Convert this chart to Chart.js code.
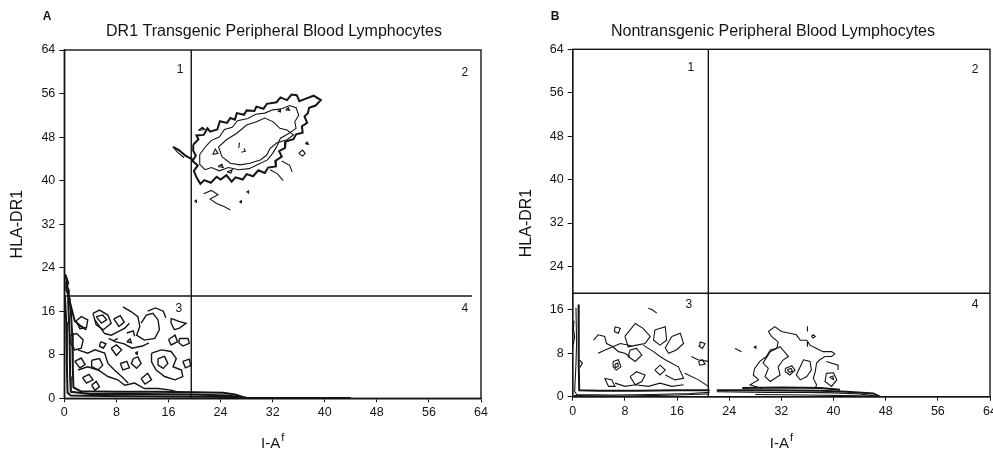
<!DOCTYPE html>
<html>
<head>
<meta charset="utf-8">
<title>HLA-DR1 vs I-Af contour plots</title>
<script src="https://cdn.jsdelivr.net/npm/chart.js@4.4.1/dist/chart.umd.min.js"></script>
<style>
  html, body { margin: 0; padding: 0; background: #fff; overflow: hidden; width: 993px; height: 450px; }
  .panel { position: absolute; top: 0; height: 450px; }
  #panelA { left: 0; width: 496px; }
  #panelB { left: 496px; width: 520px; }
</style>
</head>
<body>
<div class="panel" id="panelA"><canvas id="chartA" width="496" height="450"></canvas></div>
<div class="panel" id="panelB"><canvas id="chartB" width="520" height="450"></canvas></div>
<script>
const FONT = "'Liberation Sans', Arial, sans-serif";
const INK = '#141414';

// axis ticks, shared by both panels
const axisTicks = [0, 8, 16, 24, 32, 40, 48, 56, 64];

// ---- panel A: DR1 transgenic ----
const gateA = [
  [[19.5, 0], [19.5, 64]],
  [[0, 18.8], [62.6, 18.8]]
];
const quadLabelsA = [['1', 17.8, 60.3], ['2', 61.5, 59.8], ['3', 17.6, 16.4], ['4', 61.5, 16.4]];

// contours hugging the axes (thick)
const axisContoursA = [
  [[0.1, 22.8], [0.4, 21.6], [0.3, 20.0], [0.8, 18.4], [1.0, 16.0], [1.2, 12.0], [1.3, 6.0], [1.4, 2.0], [2.5, 1.3], [8, 1.2], [14, 1.2], [20, 1.1], [24.4, 1.0], [26.2, 0.7], [27.8, 0.1]],
  [[0.3, 21.0], [0.7, 19.8], [0.6, 17.6], [0.8, 12], [0.9, 4], [1.0, 1.2], [4, 0.8], [12, 0.8], [20, 0.7], [25, 0.5], [28.2, 0.05], [44, 0.05]],
  [[0.1, 18.6], [0.3, 14], [0.4, 6], [0.5, 1.0], [1.0, 0.5], [6, 0.4], [16, 0.35], [22, 0.3], [27, 0.2]],
  [[0.6, 19.0], [1.0, 17.0], [1.6, 14.2], [2.6, 13.2], [3.4, 12.6]],
  [[0.2, 22.6], [0.6, 21.2], [0.3, 20.2]]
];

// quadrant 2 population, outer contour (thick)
const blobOuterA = [
  [[19.8, 46.6], [20.6, 47.6], [20.3, 48.3], [21.4, 48.4], [22.0, 49.6], [22.4, 49.0], [23.5, 49.4], [23.9, 50.9], [25.0, 50.6], [25.5, 51.5], [26.2, 51.2], [26.5, 52.4], [27.6, 52.1], [28.0, 52.9], [29.2, 52.8], [29.5, 53.6], [30.6, 53.2], [31.1, 54.1], [32.6, 54.4], [33.2, 55.3], [34.2, 54.8], [34.9, 55.8], [35.7, 55.7], [36.1, 54.6], [37.2, 55.1], [38.3, 55.6], [39.4, 54.8], [38.6, 53.8], [37.6, 53.4], [37.4, 52.4], [36.9, 51.8], [37.3, 50.6], [36.5, 50.0], [36.6, 48.8], [35.6, 48.5], [35.2, 47.6], [34.0, 47.2], [33.9, 46.0], [33.0, 45.4], [33.4, 44.4], [32.4, 43.6], [32.5, 42.6], [31.3, 42.4], [30.8, 41.4], [29.8, 41.9], [29.0, 40.8], [28.0, 41.2], [27.4, 40.2], [26.3, 40.6], [25.7, 39.8], [24.9, 41.0], [24.0, 40.2], [23.4, 40.7], [22.5, 39.6], [21.5, 40.1], [20.9, 39.4], [20.3, 40.6], [19.9, 41.8], [20.5, 42.8], [19.7, 43.6], [20.2, 44.6], [19.8, 45.5], [19.8, 46.6]],
  [[16.7, 46.2], [17.6, 45.6], [18.6, 44.6], [19.8, 43.8]]
];

// quadrant 2 population, inner contours and islands
const blobInnerA = [
  [[20.8, 44.8], [21.8, 46.4], [22.6, 47.4], [23.8, 48.0], [24.6, 49.4], [25.8, 49.8], [26.6, 51.0], [28.2, 51.4], [29.4, 52.2], [30.8, 52.4], [32.0, 53.0], [33.4, 53.2], [34.6, 53.8], [35.6, 53.4], [36.0, 52.0], [35.4, 50.8], [35.6, 49.6], [34.4, 48.6], [33.2, 47.8], [32.6, 46.2], [32.0, 45.0], [31.2, 43.8], [29.8, 43.0], [28.4, 42.2], [26.8, 42.0], [25.2, 42.4], [23.8, 41.8], [22.6, 42.4], [21.6, 42.0], [20.8, 43.0], [20.8, 44.8]],
  [[24.2, 44.4], [23.7, 46.2], [24.9, 47.5], [26.5, 48.7], [28.0, 50.2], [29.5, 50.8], [30.8, 51.5], [32.1, 50.8], [33.1, 49.6], [34.2, 49.3], [35.2, 48.4], [34.2, 47.5], [32.6, 46.9], [31.6, 45.9], [31.1, 44.7], [30.1, 43.8], [28.5, 43.2], [27.0, 42.9], [25.5, 43.2], [24.2, 44.4]],
  [[16.7, 46.2], [17.4, 45.2], [18.4, 44.2]],
  [[20.6, 49.2], [21.2, 49.8], [21.6, 49.4], [20.6, 49.2]],
  [[34.0, 53.0], [34.4, 53.4], [34.6, 52.9], [34.0, 53.0]],
  [[32.8, 52.8], [33.2, 53.1], [33.2, 52.6], [32.8, 52.8]],
  [[37.0, 46.8], [37.3, 47.1], [37.5, 46.7], [37.0, 46.8]],
  [[36.0, 45.0], [36.6, 45.6], [37.0, 45.0], [36.6, 44.5], [36.0, 45.0]],
  [[21.4, 37.6], [22.6, 38.2], [23.6, 37.4], [22.4, 36.6], [23.4, 35.8], [24.6, 35.2], [25.5, 34.6]],
  [[28.0, 37.9], [28.3, 38.1], [28.3, 37.7], [28.0, 37.9]],
  [[26.9, 36.1], [27.2, 36.3], [27.2, 35.9], [26.9, 36.1]],
  [[20.0, 36.2], [20.3, 36.4], [20.3, 36.0], [20.0, 36.2]],
  [[31.6, 42.0], [32.8, 41.2], [33.6, 40.0]],
  [[33.4, 43.6], [34.6, 42.8], [35.0, 41.6]],
  [[26.8, 46.0], [26.9, 47.0]],
  [[27.2, 45.2], [27.8, 45.4], [27.6, 45.9]],
  [[22.8, 44.8], [23.2, 45.8], [23.6, 45.0], [22.8, 44.8]],
  [[23.6, 42.6], [24.2, 43.0], [24.4, 42.4], [23.6, 42.6]],
  [[25.0, 41.6], [25.8, 42.0], [25.6, 41.4], [25.0, 41.6]]
];

// quadrant 3 population (drawn bolder, as in the scan)
const q3ContoursA = [
  [[4.4, 15.6], [5.4, 16.2], [6.7, 15.3], [7.2, 13.8], [6.0, 12.6], [4.9, 13.5], [4.4, 15.6]],
  [[4.9, 15.0], [5.9, 15.3], [6.5, 14.4], [5.7, 13.8], [4.9, 15.0]],
  [[9.0, 16.8], [10.3, 15.9], [11.3, 15.0], [11.6, 13.2], [11.1, 11.6], [12.3, 10.7], [13.9, 11.0], [14.6, 12.6], [14.4, 14.4], [13.6, 15.6], [12.6, 15.3], [11.8, 13.8]],
  [[16.4, 14.7], [17.7, 14.1], [18.7, 13.8], [17.7, 12.9], [16.9, 12.6], [16.4, 13.8], [16.4, 14.7]],
  [[17.7, 11.0], [19.0, 11.0], [19.2, 10.1], [18.2, 9.6], [17.6, 10.2], [17.7, 11.0]],
  [[0.8, 11.6], [1.9, 11.9], [2.9, 10.7], [2.6, 9.2], [1.6, 8.9], [1.0, 10.1], [0.8, 11.6]],
  [[7.2, 9.2], [8.0, 9.8], [8.8, 8.9], [8.0, 7.9], [7.2, 9.2]],
  [[10.6, 7.3], [11.3, 7.6], [11.8, 6.4], [11.1, 5.5], [10.3, 6.4], [10.6, 7.3]],
  [[4.2, 2.4], [4.9, 3.1], [5.4, 2.1], [4.7, 1.5], [4.2, 2.4]],
  [[13.4, 8.3], [14.9, 8.9], [16.4, 8.6], [17.2, 7.3], [16.7, 5.8], [18.0, 5.2], [18.2, 4.0], [17.0, 3.4], [15.4, 4.0], [14.1, 5.2], [13.4, 6.7], [13.4, 8.3]],
  [[14.4, 7.3], [15.4, 7.7], [15.9, 6.4], [15.2, 5.5], [14.4, 6.1], [14.4, 7.3]],
  [[2.1, 5.2], [3.6, 5.8], [5.2, 5.2], [6.7, 4.0], [8.2, 3.4], [9.3, 2.4], [10.8, 2.8], [12.3, 1.8], [14.4, 1.8], [16.4, 1.5], [17.2, 1.2]],
  [[4.2, 7.0], [5.4, 7.3], [5.9, 6.1], [5.2, 5.2], [4.2, 5.8], [4.2, 7.0]],
  [[4.7, 14.4], [6.2, 11.9], [7.2, 11.6], [8.2, 12.2], [9.3, 12.9], [10.0, 13.8]],
  [[2.1, 8.9], [3.6, 8.3], [4.7, 8.9], [6.2, 8.3], [6.7, 6.4], [7.7, 5.2], [8.8, 4.0], [9.8, 2.8]],
  [[9.6, 10.4], [10.1, 10.9], [10.3, 10.2], [9.6, 10.4]],
  [[10.9, 8.3], [11.2, 8.5], [11.2, 8.1], [10.9, 8.3]],
  [[7.6, 10.6], [8.2, 11.0]],
  [[1.8, 14.2], [2.6, 15.0], [3.6, 14.4], [3.4, 13.0], [2.4, 12.8], [1.8, 14.2]],
  [[7.6, 14.6], [8.6, 15.2], [9.2, 14.0], [8.4, 13.2], [7.6, 14.6]],
  [[12.8, 16.0], [14.0, 16.6], [15.2, 16.0], [15.6, 14.8]],
  [[1.6, 6.8], [2.6, 7.4], [3.2, 6.2], [2.4, 5.6], [1.6, 6.8]],
  [[6.8, 11.0], [7.8, 10.4], [9.2, 10.0], [10.4, 9.2], [12.0, 9.6], [13.0, 10.2]],
  [[8.6, 6.4], [9.6, 6.8], [10.0, 5.6], [9.0, 5.2], [8.6, 6.4]],
  [[2.8, 3.8], [3.8, 4.4], [4.4, 3.4], [3.4, 2.8], [2.8, 3.8]],
  [[11.8, 3.6], [12.8, 4.6], [13.4, 3.4], [12.4, 2.6], [11.8, 3.6]],
  [[16.0, 10.8], [17.0, 11.6], [17.4, 10.4], [16.4, 9.8], [16.0, 10.8]],
  [[18.2, 6.8], [19.2, 7.2], [19.4, 6.0], [18.6, 5.6], [18.2, 6.8]],
  [[5.6, 10.4], [6.4, 10.0], [6.0, 9.2], [5.4, 9.6], [5.6, 10.4]],
  [[9.6, 12.0], [10.6, 12.4], [10.8, 11.4]]
];

// ---- panel B: nontransgenic ----
const gateB = [
  [[20.8, 0], [20.8, 64]],
  [[0, 19.05], [64, 19.05]]
];
const quadLabelsB = [['1', 18.1, 60.7], ['2', 61.7, 60.2], ['3', 17.8, 16.9], ['4', 61.7, 16.9]];

const axisContoursB = [
  [[0.9, 17.0], [0.9, 12], [0.95, 6], [1.0, 1.2], [4, 1.1], [10, 1.1], [16, 1.2], [21, 1.2]],
  [[22.1, 1.2], [30, 1.2], [38, 1.1], [42, 0.9], [46.1, 0.6], [47.1, 0.0]],
  [[26, 1.6], [32, 1.7], [38, 1.6], [41, 1.3]]
];
const stripContoursB = [
  [[0.5, 16.4], [0.6, 10], [0.5, 6], [0.3, 1.0], [0.6, 0.4], [6, 0.3], [12, 0.4], [18, 0.6], [21, 0.8]],
  [[0.2, 14.0], [0.1, 12.5], [0.3, 11.0], [0.1, 9.6]],
  [[1.0, 6.8], [1.5, 6.2], [1.1, 5.4]],
  [[0.2, 0.2], [8, 0.1], [16, 0.3], [20.8, 0.5]],
  [[22.1, 0.9], [30, 0.8], [36, 0.8], [40, 0.7], [44, 0.5], [46.6, 0.1]],
  [[28, 0.4], [36, 0.3], [42, 0.2], [46, 0.1]]
];

const q3ContoursB = [
  [[11.6, 16.3], [12.2, 16.0], [12.9, 15.4]],
  [[6.5, 12.9], [7.3, 12.6], [7.0, 11.7], [6.4, 12.0], [6.5, 12.9]],
  [[3.2, 10.4], [3.9, 11.4], [4.9, 11.1], [5.2, 9.8], [6.2, 9.2], [7.0, 8.3], [8.0, 8.0], [8.8, 7.4]],
  [[8.0, 11.1], [9.6, 13.5], [10.8, 12.6], [11.9, 11.1], [11.1, 9.8], [9.8, 9.5], [8.5, 9.2], [8.0, 11.1]],
  [[8.8, 8.6], [9.8, 8.9], [10.6, 7.7], [9.6, 6.5], [8.5, 7.4], [8.8, 8.6]],
  [[12.6, 12.3], [14.2, 12.9], [14.4, 10.4], [13.4, 9.5], [12.4, 10.4], [12.6, 12.3]],
  [[15.2, 11.1], [16.5, 11.7], [17.0, 9.8], [15.9, 8.6], [14.7, 8.0], [14.2, 9.0], [15.2, 11.1]],
  [[6.2, 6.5], [7.0, 6.8], [7.4, 5.5], [6.7, 4.9], [6.2, 5.5], [6.2, 6.5]],
  [[6.5, 6.0], [6.9, 6.2], [7.0, 5.6], [6.6, 5.4], [6.5, 6.0]],
  [[12.6, 4.9], [13.4, 5.8], [14.2, 4.9], [13.4, 4.0], [12.6, 4.9]],
  [[14.2, 6.8], [16.2, 5.5], [17.0, 3.4], [15.7, 3.1], [14.2, 4.0]],
  [[8.8, 3.7], [9.8, 4.6], [11.1, 4.0], [10.6, 2.8], [9.6, 2.2], [8.8, 3.7]],
  [[4.9, 3.4], [6.0, 3.1], [6.5, 1.9], [5.5, 1.9], [4.9, 3.4]],
  [[19.5, 10.1], [20.3, 9.8], [19.9, 8.9], [19.4, 9.3], [19.5, 10.1]],
  [[19.3, 6.5], [19.9, 6.8], [20.3, 6.0], [19.5, 5.8], [19.3, 6.5]],
  [[18.2, 7.4], [19.2, 6.8], [20.8, 6.5]],
  [[17.2, 4.3], [19.3, 3.1], [20.8, 1.9]],
  [[3.9, 8.0], [5.5, 8.9], [7.3, 9.8], [9.0, 9.4]],
  [[6.5, 2.5], [8.0, 1.9], [9.6, 2.2], [11.6, 1.9], [13.4, 2.5], [15.2, 1.9], [17.0, 2.2]],
  [[10.8, 9.5], [12.4, 8.3], [13.4, 7.4], [14.2, 6.8]]
];

const q4ContoursB = [
  [[30.0, 12.0], [31.0, 12.9], [32.0, 12.0], [33.3, 11.7], [34.3, 11.4], [34.9, 10.4], [35.9, 10.4], [36.4, 9.5], [37.4, 8.9], [38.4, 8.3], [39.7, 8.3], [40.2, 7.9], [39.7, 7.4], [38.7, 7.4], [37.9, 6.8], [37.4, 6.2], [37.2, 4.6], [36.9, 3.4], [37.4, 2.2], [37.2, 1.5]],
  [[30.0, 12.0], [30.5, 11.1], [31.5, 10.1], [31.3, 8.9], [30.3, 8.6], [29.7, 7.4], [28.7, 6.5], [27.9, 5.2], [27.7, 4.0], [28.5, 3.1], [27.2, 2.2], [29.0, 1.5]],
  [[30.3, 8.3], [31.8, 9.2], [33.1, 7.4], [32.3, 6.8], [31.5, 5.5], [31.8, 4.0], [30.3, 2.8], [29.5, 3.7], [30.0, 5.2], [29.2, 6.2], [30.3, 8.3]],
  [[32.6, 5.2], [33.6, 5.7], [34.1, 4.9], [33.3, 4.0], [32.6, 4.6], [32.6, 5.2]],
  [[32.9, 5.0], [33.5, 5.2], [33.7, 4.7], [33.2, 4.5], [32.9, 5.0]],
  [[35.4, 6.8], [36.4, 6.5], [36.6, 4.9], [35.9, 3.7], [34.9, 3.1], [34.3, 4.0], [35.4, 6.8]],
  [[24.9, 8.9], [25.9, 8.3]],
  [[27.8, 9.2], [28.1, 9.3], [28.1, 8.9], [27.8, 9.2]],
  [[36.0, 13.0], [36.0, 12.0]],
  [[36.0, 10.1], [36.0, 9.2]],
  [[36.6, 11.1], [36.9, 11.4], [37.2, 11.1], [36.9, 10.8], [36.6, 11.1]],
  [[38.9, 6.5], [40.7, 5.8], [40.7, 4.9]],
  [[38.9, 4.3], [40.0, 4.4], [40.5, 3.1], [39.7, 1.9], [38.7, 2.8], [38.9, 4.3]],
  [[39.4, 3.6], [39.9, 3.8], [40.0, 3.2], [39.4, 3.6]]
];

function toDatasets(lines, width) {
  return lines.map(pts => ({
    data: pts.map(p => ({ x: p[0], y: p[1] })),
    showLine: true,
    borderColor: INK,
    borderWidth: width,
    pointRadius: 0,
    fill: false,
    tension: 0
  }));
}

// draws frame, panel letter, quadrant numbers, title and the I-Af axis title
const panelDecor = {
  id: 'panelDecor',
  afterDraw(chart, args, o) {
    const { ctx, chartArea: a, scales: { x, y } } = chart;
    ctx.save();
    ctx.strokeStyle = INK;
    ctx.lineWidth = 1.4;
    ctx.strokeRect(a.left, a.top, a.right - a.left, a.bottom - a.top);

    ctx.fillStyle = INK;
    ctx.textBaseline = 'middle';
    ctx.textAlign = 'center';
    ctx.font = 'bold 12px ' + FONT;
    ctx.fillText(o.letter, o.letterX, 17);

    ctx.font = '16px ' + FONT;
    ctx.fillText(o.title, o.titleX, 32);

    ctx.font = '12px ' + FONT;
    o.quads.forEach(q => ctx.fillText(q[0], x.getPixelForValue(q[1]), y.getPixelForValue(q[2])));

    // x axis title with superscript f
    const cx = (a.left + a.right) / 2;
    ctx.font = '15px ' + FONT;
    const w1 = ctx.measureText('I-A').width;
    ctx.font = '11px ' + FONT;
    const w2 = ctx.measureText('f').width;
    const x0 = cx - (w1 + w2 + 1) / 2;
    ctx.textAlign = 'left';
    ctx.textBaseline = 'alphabetic';
    ctx.font = '15px ' + FONT;
    ctx.fillText('I-A', x0, 448);
    ctx.font = '11px ' + FONT;
    ctx.fillText('f', x0 + w1 + 1, 441);
    ctx.restore();
  }
};

function makePanel(id, cfg) {
  const datasets = [].concat(
    toDatasets(cfg.gate, 1.4),
    toDatasets(cfg.thick, 2),
    toDatasets(cfg.mid, 1.4),
    toDatasets(cfg.thin, 1.1)
  );
  return new Chart(document.getElementById(id), {
    type: 'scatter',
    data: { datasets },
    plugins: [panelDecor],
    options: {
      responsive: false,
      animation: false,
      events: [],
      layout: { padding: { left: 0, right: cfg.padRight, top: cfg.top, bottom: 0 } },
      plugins: {
        legend: { display: false },
        tooltip: { enabled: false },
        panelDecor: { letter: cfg.letter, letterX: cfg.letterX, title: cfg.title, titleX: cfg.titleX, quads: cfg.quads }
      },
      scales: {
        x: {
          type: 'linear', min: 0, max: 64,
          afterBuildTicks: s => { s.ticks = axisTicks.map(v => ({ value: v })); },
          afterFit: s => { s.height = cfg.xAxisH; },
          grid: { drawOnChartArea: false, tickLength: 4, color: INK, lineWidth: 1 },
          border: { color: INK, width: 1.4 },
          ticks: { color: INK, font: { family: FONT, size: 12.5 }, padding: 3, maxRotation: 0, autoSkip: false }
        },
        y: {
          type: 'linear', min: 0, max: 64,
          afterBuildTicks: s => { s.ticks = axisTicks.map(v => ({ value: v })); },
          afterFit: s => { s.width = cfg.yAxisW; },
          grid: { drawOnChartArea: false, tickLength: 5, color: INK, lineWidth: 1 },
          border: { color: INK, width: 1.4 },
          ticks: { color: INK, font: { family: FONT, size: 12.5 }, padding: 4, autoSkip: false },
          title: { display: true, text: 'HLA-DR1', color: INK, font: { family: FONT, size: 16 }, padding: { top: cfg.yTitlePad, bottom: 0 } }
        }
      }
    }
  });
}

makePanel('chartA', {
  letter: 'A', letterX: 47,
  title: 'DR1 Transgenic Peripheral Blood Lymphocytes', titleX: 274,
  quads: quadLabelsA,
  gate: gateA,
  thick: axisContoursA.concat(blobOuterA),
  mid: q3ContoursA,
  thin: blobInnerA,
  padRight: 15, top: 50, xAxisH: 51.7, yAxisW: 64.3, yTitlePad: 8.4
});

makePanel('chartB', {
  letter: 'B', letterX: 59,
  title: 'Nontransgenic Peripheral Blood Lymphocytes', titleX: 277,
  quads: quadLabelsB,
  gate: gateB,
  thick: axisContoursB,
  mid: [],
  thin: stripContoursB.concat(q3ContoursB, q4ContoursB),
  padRight: 26, top: 49.3, xAxisH: 53.3, yAxisW: 76.7, yTitlePad: 21.4
});
</script>
</body>
</html>
